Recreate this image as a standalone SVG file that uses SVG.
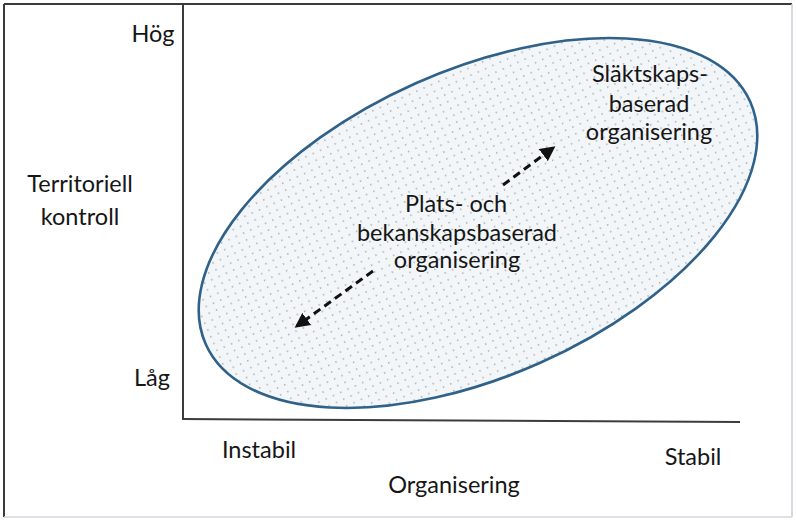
<svg xmlns="http://www.w3.org/2000/svg" width="796" height="522" viewBox="0 0 796 522">
  <style>
    .t { font-family: "Lato", "Liberation Sans", sans-serif; font-size: 23.5px; fill: #161616; text-anchor: middle; }
    .ax { stroke: #3c3c3c; stroke-width: 2; fill: none; }
    .arr { stroke: #111; stroke-width: 3; stroke-dasharray: 8 5; fill: none; marker-end: url(#ah); }
  </style>
  <defs>
    <pattern id="dots" width="8" height="7.4" patternUnits="userSpaceOnUse">
      <rect width="8" height="7.4" fill="#f3f6f9"/>
      <rect x="3" y="3" width="1.4" height="1.4" fill="#9fa4aa"/>
    </pattern>
    <marker id="ah" markerWidth="5" markerHeight="5" refX="4" refY="2.5" orient="auto" markerUnits="strokeWidth">
      <path d="M0,0 L5,2.5 L0,5 Z" fill="#111"/>
    </marker>
  </defs>
  <rect width="796" height="522" fill="#ffffff"/>
  <g id="frame">
    <line x1="4" y1="4" x2="792" y2="4" stroke="#3a3a3a" stroke-width="2"/>
    <line x1="4" y1="4" x2="4" y2="517" stroke="#3a3a3a" stroke-width="2"/>
    <line x1="792" y1="4" x2="792" y2="517" stroke="#c9ced3" stroke-width="1.5"/>
    <line x1="4" y1="517" x2="792" y2="517" stroke="#d2d7dc" stroke-width="1.5"/>
  </g>
  <g id="axes">
    <line class="ax" x1="183" y1="5" x2="183" y2="419"/>
    <line class="ax" x1="182" y1="419" x2="740" y2="422"/>
  </g>
  <g id="ellipse-node">
    <ellipse cx="478" cy="223" rx="298" ry="153" transform="rotate(-24 478 223)" fill="url(#dots)" stroke="#2f6189" stroke-width="2.6"/>
  </g>
  <g id="connectors">
    <line class="arr" x1="503" y1="185" x2="553" y2="148"/>
    <line class="arr" x1="373" y1="271" x2="297" y2="326"/>
  </g>
  <g id="label-slakt">
    <text class="t" x="650" y="82">Släktskaps-</text>
    <text class="t" x="649" y="112">baserad</text>
    <text class="t" x="649" y="140">organisering</text>
  </g>
  <g id="label-plats">
    <text class="t" x="456" y="212">Plats- och</text>
    <text class="t" x="457" y="241">bekanskapsbaserad</text>
    <text class="t" x="457" y="268">organisering</text>
  </g>
  <g id="y-axis-labels">
    <text class="t" x="153" y="42">Hög</text>
    <text class="t" x="80" y="192">Territoriell</text>
    <text class="t" x="80" y="225">kontroll</text>
    <text class="t" x="152" y="386">Låg</text>
  </g>
  <g id="x-axis-labels">
    <text class="t" x="259" y="458">Instabil</text>
    <text class="t" x="693" y="465">Stabil</text>
    <text class="t" x="454" y="493">Organisering</text>
  </g>
</svg>
